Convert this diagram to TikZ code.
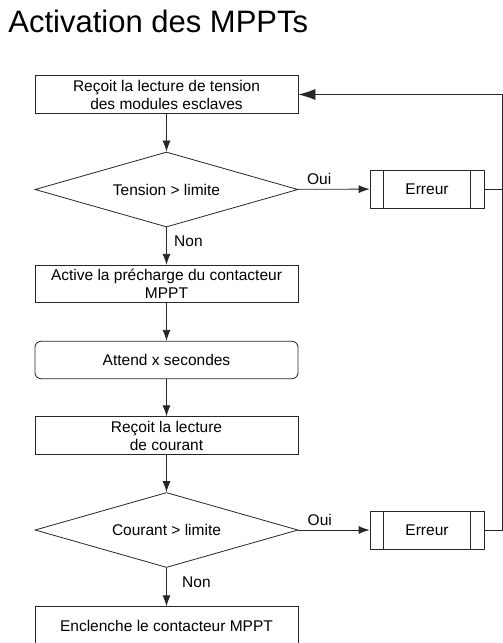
\documentclass[tikz,border=0pt]{standalone}
\usepackage{fontspec}
\setmainfont{Liberation Sans}
\usetikzlibrary{shapes.geometric,arrows.meta}
\begin{document}
\begin{tikzpicture}[x=1bp,y=1bp,line width=0.8bp,
		font=\fontsize{15.5bp}{18bp}\selectfont,
		etape/.style={draw=black!85, minimum width=263bp, minimum height=37.5bp, inner sep=1bp, align=center},
		attente/.style={etape, rounded corners=6bp},
		test/.style={diamond, draw=black!85, shape aspect=3.5, minimum width=263bp, minimum height=75bp, inner sep=0pt},
		erreur/.style={draw=black!85, minimum width=114bp, minimum height=38bp},
		fleche/.style={draw=black!85, -{Latex[length=11bp,width=8bp]}},
		retour/.style={draw=black!85, -{Latex[length=17bp,width=11bp]}}]
		\useasboundingbox (0,0) rectangle (503,-643);

		\node[anchor=base west, inner sep=0pt, font=\fontsize{31bp}{36bp}\selectfont] (titre) at (8,-33) {Activation des MPPTs};

		\node[etape] (lectT) at (166.5,-94.5) {Reçoit la lecture de tension\\ des modules esclaves};
		\node[test] (testT) at (166.5,-189.5) {Tension > limite};
		\node[erreur] (errT) at (427,-189) {Erreur};
		\node[etape] (preC) at (166.5,-284) {Active la précharge du contacteur\\MPPT};
		\node[attente] (att) at (166.5,-360) {Attend x secondes};
		\node[etape] (lectC) at (166.5,-435.5) {Reçoit la lecture\\de courant};
		\node[test] (testC) at (166.5,-530) {Courant > limite};
		\node[erreur] (errC) at (427,-530) {Erreur};
		\node[etape] (encl) at (166.5,-625.5) {Enclenche le contacteur MPPT};
		\coordinate (coin) at (502,-94.5);

		\foreach \e in {errT,errC} {
			\draw[black!85] ([xshift=14bp]\e.north west) -- ([xshift=14bp]\e.south west);
			\draw[black!85] ([xshift=-14bp]\e.north east) -- ([xshift=-14bp]\e.south east);
		}

		\draw[fleche] (lectT) -- (testT);
		\draw[fleche] (testT) -- node[pos=0.37, right=4bp] {Non} (preC);
		\draw[fleche] (preC) -- (att);
		\draw[fleche] (att) -- (lectC);
		\draw[fleche] (lectC) -- (testC);
		\draw[fleche] (testC) -- node[pos=0.37, right=12bp] {Non} (encl);
		\draw[fleche] (testT) -- node[pos=0.3, above=1bp] {Oui} (errT);
		\draw[fleche] (testC) -- node[pos=0.3, above=1bp] {Oui} (errC);

		\draw[black!85] (errT.east) -- (errT.east -| coin);
		\draw[retour] (errC.east) -| (coin) -- (lectT.east);
	\end{tikzpicture}
\end{document}
